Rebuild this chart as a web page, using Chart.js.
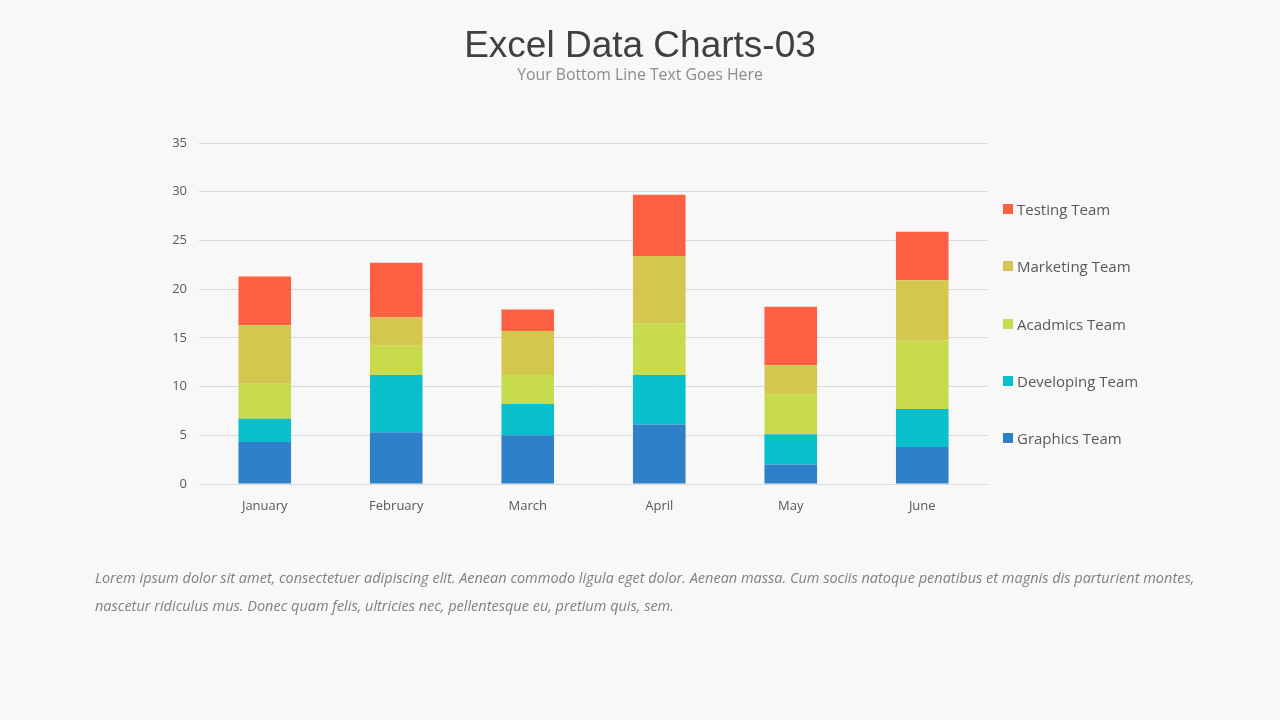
<!DOCTYPE html>
<html>
<head>
<meta charset="utf-8">
<script src="https://cdn.jsdelivr.net/npm/chart.js@4.4.1/dist/chart.umd.min.js"></script>
<style>
  html, body { margin: 0; padding: 0; background: #f8f8f8; }
  body { width: 1280px; height: 720px; position: relative; overflow: hidden; font-family: "Open Sans", sans-serif; }
  #title { position: absolute; top: 24px; left: 0; width: 1280px; text-align: center; font-family: "Liberation Sans", Arial, sans-serif; font-size: 37px; color: #404040; }
  #subtitle { position: absolute; top: 63px; left: 0; width: 1280px; text-align: center; font-size: 15.8px; color: #8c8c8c; }
  #wrap { position: absolute; left: 0; top: 0; width: 1280px; height: 720px; }
  #legend { position: absolute; left: 1003px; top: 199px; }
  .item { height: 20px; margin-bottom: 37.3px; display: flex; align-items: center; font-size: 15px; color: #595959; }
  .box { width: 10px; height: 10px; margin-right: 4px; }
  #text { position: absolute; left: 95px; top: 564px; width: 1150px; font-style: italic; font-size: 14.5px; line-height: 28px; color: #808080; white-space: nowrap; }
</style>
</head>
<body>
<div id="wrap"><canvas id="myChart" width="1280" height="720"></canvas></div>
<div id="title">Excel Data Charts-03</div>
<div id="subtitle">Your Bottom Line Text Goes Here</div>
<div id="legend"></div>
<div id="text">Lorem ipsum dolor sit amet, consectetuer adipiscing elit. Aenean commodo ligula eget dolor. Aenean massa. Cum sociis natoque penatibus et magnis dis parturient montes,<br>nascetur ridiculus mus. Donec quam felis, ultricies nec, pellentesque eu, pretium quis, sem.</div>
<script>
// data
const months = ["January", "February", "March", "April", "May", "June"];
const teams = ["Graphics Team", "Developing Team", "Acadmics Team", "Marketing Team", "Testing Team"];
const graphics = [4.3, 5.3, 5.0, 6.1, 2.0, 3.8];
const developing = [2.4, 5.9, 3.2, 5.1, 3.1, 3.9];
const acadmics = [3.6, 3.0, 3.0, 5.3, 4.1, 7.0];
const marketing = [6.0, 2.9, 4.5, 6.9, 3.0, 6.2];
const testing = [5.0, 5.6, 2.2, 6.3, 6.0, 5.0];
const colors = ["#2e80c8", "#08bfcc", "#c8db4d", "#d4c74f", "#fe6043"];

const values = [graphics, developing, acadmics, marketing, testing];

const ctx = document.getElementById("myChart");

const chart = new Chart(ctx, {
  type: "bar",
  data: {
    labels: months,
    datasets: teams.map((t, i) => ({
      label: t,
      data: values[i],
      backgroundColor: colors[i],
      borderWidth: 0,
      barPercentage: 0.4,
      categoryPercentage: 1,
    })),
  },
  options: {
    responsive: false,
    maintainAspectRatio: false,
    animation: false,
    layout: { padding: { left: 151, right: 292, top: 143, bottom: 200 } },
    plugins: { legend: { display: false }, tooltip: { enabled: false } },
    scales: {
      x: {
        stacked: true,
        grid: { display: false },
        border: { color: "#d9d9d9" },
        ticks: { color: "#595959", font: { family: "Open Sans", size: 13 }, padding: 6 },
        afterFit: (s) => { s.height = 36; },
      },
      y: {
        stacked: true,
        min: 0,
        max: 35,
        ticks: { stepSize: 5, color: "#595959", font: { family: "Open Sans", size: 13 }, padding: 12 },
        grid: { color: "#d9d9d9", drawTicks: false },
        border: { display: false },
        afterFit: (s) => { s.width = 48; },
      },
    },
  },
});

// legend
const legend = document.getElementById("legend");
for (let i = teams.length - 1; i >= 0; i--) {
  const item = document.createElement("div");
  item.className = "item";
  item.innerHTML = '<span class="box" style="background:' + colors[i] + '"></span>' + teams[i];
  legend.appendChild(item);
}
</script>
</body>
</html>
